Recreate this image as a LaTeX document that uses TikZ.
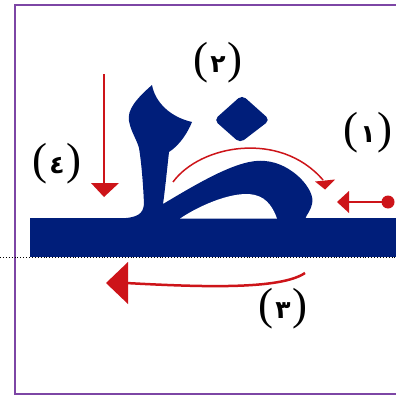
\documentclass[tikz,border=0pt]{standalone}
\usepackage{fontspec}
\newfontfamily\parfont{Liberation Serif}
\newfontfamily\digfont[Script=Arabic]{DejaVu Sans}
\definecolor{navy}{RGB}{0,30,122}
\definecolor{redarr}{RGB}{205,20,25}
\definecolor{framepurple}{RGB}{125,70,165}
\tikzset{
  letter/.style={fill=navy,draw=none},
  redline/.style={draw=redarr,line width=1.5pt},
  redhead/.style={fill=redarr,draw=none},
  numlabel/.style={inner sep=0pt,font=\parfont\fontsize{45}{45}\selectfont}
}
\newcommand{\numlab}[1]{(\hspace{2pt}\raisebox{1pt}{\digfont\bfseries\fontsize{25}{25}\selectfont #1}\hspace{2pt})}
\begin{document}
\begin{tikzpicture}[x=1pt,y=-1pt]
\useasboundingbox (0,0) rectangle (396,396);
\fill[white] (0,0) rectangle (396,396);
% frame
\draw[framepurple,line width=1.3pt] (396,5) -- (15,5) -- (15,394) -- (396,394);
% baseline bar
\fill[navy] (30,218) rectangle (396,257);
\draw[black,dotted,line width=0.9pt] (0,257.5) -- (396,257.5);
% letter body
\fill[letter] (118,218.5)
  .. controls (138,218) and (143,214) .. (144,204)
  .. controls (143,180) and (141,160) .. (139,148)
  .. controls (137,140) and (131,132) .. (129,121)
  .. controls (127,110) and (136,99) .. (152,85)
  .. controls (155,102) and (170,117) .. (192,122)
  .. controls (188,132) and (180,145) .. (169,152)
  .. controls (167,170) and (165,190) .. (163,204)
  .. controls (200,182) and (240,158) .. (265,161)
  .. controls (292,163) and (316,190) .. (312,204)
  .. controls (311,210) and (307,214) .. (305,219)
  -- (118,219) -- cycle;
% counter
\fill[white] (180,218.6)
  .. controls (200,205) and (235,190) .. (255,195)
  .. controls (268,198) and (274,210) .. (277,218.6) -- cycle;
% dot
\fill[letter,rounded corners=5pt] (242,95) -- (270,120) -- (240,143) -- (214,120) -- cycle;
% arrow (4)
\draw[redline] (104,74) -- (104,185);
\fill[redhead] (91,183) -- (119,183) -- (104,197) -- cycle;
% curved arrow over loop
\draw[redline] (173,182) .. controls (200,145) and (280,130) .. (323,180);
\fill[redhead] (315,181.5) -- (335,179.5) -- (325,189.5) -- cycle;
% arrow with dot (1)
\draw[redline] (347,202) -- (388,202);
\fill[redarr] (388,202) circle (6.5);
\fill[redhead] (337,202) -- (349,191) -- (349,213) -- cycle;
% arrow (3)
\draw[redarr,line width=2.5pt] (305,273) .. controls (280,290) and (200,287) .. (126,283);
\fill[redhead] (106,283) -- (128,262) -- (128,304) -- cycle;
% labels
\node[numlabel] (l2) at (218,63) {\numlab{٢}};
\node[numlabel] (l1) at (368,133) {\numlab{١}};
\node[numlabel] (l4) at (57,164) {\numlab{٤}};
\node[numlabel] (l3) at (283,309) {\numlab{٣}};
\end{tikzpicture}
\end{document}
